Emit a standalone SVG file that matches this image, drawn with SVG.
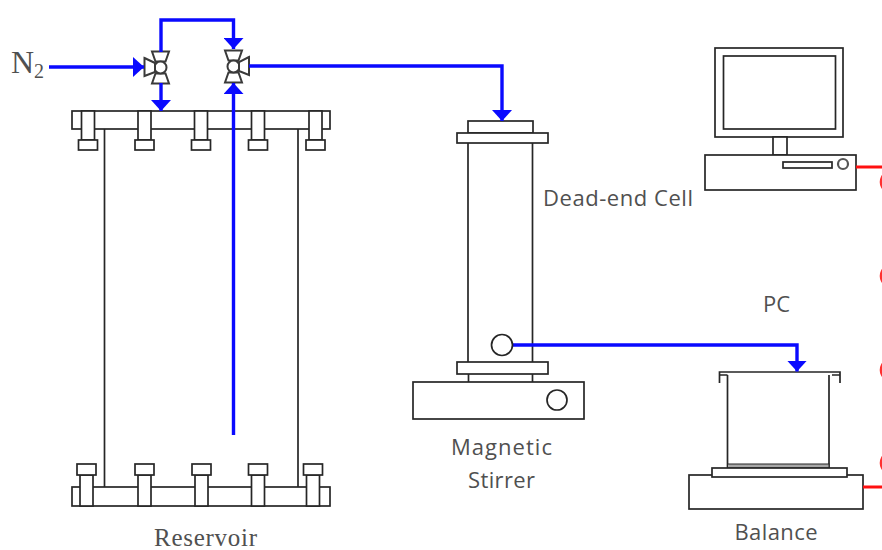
<svg xmlns="http://www.w3.org/2000/svg" width="882" height="550" viewBox="0 0 882 550">
<style>
.s{fill:#fff;stroke:#262626;stroke-width:1.7}
.n{fill:none;stroke:#262626;stroke-width:1.7}
.b{fill:none;stroke:#0a0aff;stroke-width:3.4}
.r{fill:none;stroke:#ff1010;stroke-width:3}
.a{fill:none;stroke:#ff3030;stroke-width:2.6}
.t{font-family:"Open Sans","Liberation Sans",sans-serif;font-size:22px;fill:#505050;text-anchor:middle}
.f{font-family:"Liberation Serif",serif;fill:#505050}
.v{fill:#fff;stroke:#3a3a3a;stroke-width:2}
</style>
<defs>
<marker id="ah" markerUnits="userSpaceOnUse" markerWidth="12" markerHeight="20" refX="11" refY="10" orient="auto"><path d="M0 0L11 10L0 20Z" fill="#0a0aff"/></marker>
<g id="bolt-top"><rect class="s" x="-6.500" y="111" width="13" height="29"/><rect class="s" x="-9.500" y="140" width="19" height="10"/></g>
<g id="bolt-bot"><rect class="s" x="-6.500" y="475" width="13" height="31"/><rect class="s" x="-9.500" y="464" width="19" height="11"/></g>
<g id="valve">
<path class="v" d="M-8.500 -16H8.500L5 -6H-5Z"/><path class="v" d="M-8.500 16H8.500L5 6H-5Z"/><circle class="v" cx="0" cy="0" r="6"/></g>
</defs>

<g id="reservoir">
<rect class="s" x="72" y="111" width="258" height="18"/>
<rect class="s" x="72" y="487" width="258" height="19"/>
<path class="n" d="M104.500 129V487M298 129V487"/>
<use href="#bolt-top" x="88"/><use href="#bolt-top" x="144.500"/><use href="#bolt-top" x="201"/><use href="#bolt-top" x="258"/><use href="#bolt-top" x="315.500"/>
<use href="#bolt-bot" x="86.500"/><use href="#bolt-bot" x="144.500"/><use href="#bolt-bot" x="201.500"/><use href="#bolt-bot" x="258"/><use href="#bolt-bot" x="313"/>
<text x="205.500" y="546" class="f" font-size="25" text-anchor="middle" textLength="103" lengthAdjust="spacing">Reservoir</text>
</g>

<g id="cell">
<rect class="s" x="468" y="121" width="65" height="12"/>
<rect class="s" x="457" y="133" width="91" height="10"/>
<path class="n" d="M468 143V362M532.500 143V362"/>
<rect class="s" x="457" y="362" width="91" height="12"/>
<path class="n" d="M468.500 374V382M532.500 374V382"/>
<text x="618" y="206" class="t" textLength="150" lengthAdjust="spacing">Dead-end Cell</text>
</g>

<g id="stirrer">
<rect class="s" x="413" y="382" width="171" height="37"/>
<circle class="s" cx="557" cy="400" r="10"/>
<text x="501.500" y="455" class="t" textLength="101" lengthAdjust="spacing">Magnetic</text>
<text x="501.500" y="488" class="t" textLength="67" lengthAdjust="spacing">Stirrer</text>
</g>

<g id="pc">
<rect class="s" x="715" y="48" width="128" height="89"/>
<rect class="s" x="723.500" y="56" width="112" height="73"/>
<rect class="s" x="773" y="137" width="14" height="18"/>
<rect class="s" x="705" y="155" width="151" height="35"/>
<rect class="s" x="783" y="162" width="49" height="6"/>
<circle cx="843" cy="164" r="5" fill="#fff" stroke="#555" stroke-width="2.200"/>
<text x="776.500" y="312" class="t">PC</text>
</g>

<g id="balance">
<path class="n" d="M719.500 383V372H840V383M719.500 375H727.500M832 375H840"/>
<path class="n" d="M727.500 375V468M829 375V468"/>
<rect x="727.500" y="464" width="101.500" height="4" fill="#a8a8a8" stroke="#262626" stroke-width="1"/>
<rect class="s" x="689" y="475" width="174" height="34"/>
<rect class="s" x="712" y="468" width="135" height="9"/>
<text x="776" y="540" class="t" textLength="83" lengthAdjust="spacing">Balance</text>
</g>

<g id="n2">
<text x="11" y="73" class="f" font-size="32">N<tspan font-size="20" dy="5">2</tspan></text>
</g>

<g id="valve-1"><use href="#valve" x="160.500" y="67.500"/><path class="v" d="M144.500 58L155 63V72L144.500 76Z"/></g>
<g id="valve-2"><use href="#valve" x="233.500" y="66.500"/><path class="v" d="M249 57L239 62V71L249 75Z"/></g>

<g id="connectors">
<path class="b" d="M49 67H144" marker-end="url(#ah)"/>
<path class="b" d="M161 83V111" marker-end="url(#ah)"/>
<path class="b" d="M161 52V20H233.500V49" marker-end="url(#ah)"/>
<path class="b" d="M233.500 435V83" marker-end="url(#ah)"/>
<path class="b" d="M249 66H502V121" marker-end="url(#ah)"/>
<path class="b" d="M512 345H797V371.500" marker-end="url(#ah)"/>
<path class="r" d="M856 167H882M863 487H882"/>
<ellipse class="a" cx="885" cy="182" rx="4" ry="7"/>
<ellipse class="a" cx="885" cy="276" rx="4" ry="7"/>
<ellipse class="a" cx="885" cy="370" rx="4" ry="7"/>
<ellipse class="a" cx="885" cy="463" rx="4" ry="7"/>
</g>
<circle class="s" cx="502" cy="345" r="10.500"/>
</svg>
